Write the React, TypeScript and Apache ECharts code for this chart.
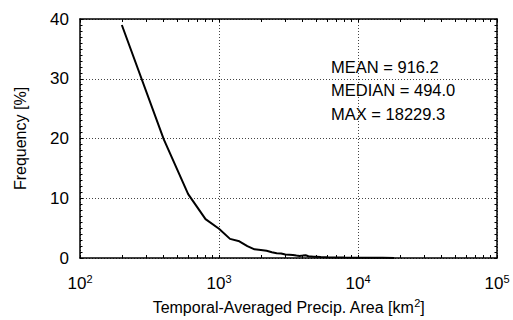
import React, { useEffect, useRef } from "react";
import * as echarts from "echarts";

const areaBins = [200, 400, 600, 800, 1000, 1200, 1400, 1600, 1800, 2000, 2200, 2400, 2600, 2800, 3000, 3200, 3400, 3600, 3800, 4000, 4200, 4400, 4600, 4800, 5000, 5400, 6000, 7000, 8000, 10000, 12000, 15000, 18200];
const frequency = [39.0, 19.9, 10.7, 6.5, 4.9, 3.2, 2.8, 2.0, 1.45, 1.35, 1.2, 0.95, 0.8, 0.75, 0.6, 0.55, 0.5, 0.4, 0.35, 0.4, 0.45, 0.3, 0.25, 0.2, 0.2, 0.15, 0.12, 0.1, 0.08, 0.05, 0.04, 0.03, 0.02];
const statLines = ["MEAN = 916.2", "MEDIAN = 494.0", "MAX = 18229.3"];
const xTickValues: number[] = [];
for (let e = 2; e <= 4; e++) {
  for (let m = 1; m <= 9; m++) xTickValues.push(m * Math.pow(10, e));
}
xTickValues.push(100000);

const FONT = "Liberation Sans";

export default function App() {
  const ref = useRef<HTMLDivElement>(null);
  useEffect(() => {
    if (!ref.current) return;
    const chart = echarts.init(ref.current, null, { renderer: "svg" });
    const xTick = { show: true, inside: true, length: 3, customValues: xTickValues, lineStyle: { color: "#000", width: 1 } };
    const yTickMinor = { show: true, splitNumber: 10, length: 2.5, lineStyle: { color: "#000", width: 1 } };
    const dotted = { show: true, lineStyle: { color: "#444", width: 1, type: [1, 2] as any } };
    const boxLine = { show: true, lineStyle: { color: "#000", width: 1.5 } };
    const logBase = { type: "log", logBase: 10, min: 100, max: 100000 };
    chart.setOption({
      animation: false,
      textStyle: { fontFamily: FONT },
      grid: { left: 80, right: 16, top: 19, bottom: 54 },
      xAxis: [
        {
          ...logBase,
          axisLine: boxLine,
          axisTick: { show: false },
          splitLine: dotted,
          axisLabel: {
            margin: 15,
            color: "#000",
            formatter: (v: number) => `{b|10}{s|${Math.round(Math.log10(v))}}`,
            rich: {
              b: { fontSize: 17, fontFamily: FONT, color: "#000" },
              s: { fontSize: 11, fontFamily: FONT, color: "#000", padding: [0, 0, 10, 0] },
            },
          },
          name: "Temporal-Averaged Precip. Area [km{s|2}]",
          nameLocation: "middle",
          nameGap: 39,
          nameTextStyle: {
            fontSize: 16,
            fontFamily: FONT,
            color: "#000",
            rich: {
              s: { fontSize: 11, fontFamily: FONT, color: "#000", padding: [0, 0, 9, 0] },
            },
          },
        },
        {
          ...logBase,
          position: "bottom",
          axisLine: { show: false },
          axisTick: xTick,
          axisLabel: { show: false },
          splitLine: { show: false },
        },
        {
          ...logBase,
          position: "top",
          axisLine: boxLine,
          axisTick: xTick,
          axisLabel: { show: false },
          splitLine: { show: false },
        },
      ],
      yAxis: [
        {
          type: "value",
          min: 0,
          max: 40,
          interval: 10,
          axisLine: boxLine,
          axisTick: { show: true, inside: true, length: 3, lineStyle: { color: "#000" } },
          minorTick: yTickMinor,
          splitLine: dotted,
          axisLabel: { margin: 11, fontSize: 17, fontFamily: FONT, color: "#000" },
          name: "Frequency [%]",
          nameLocation: "middle",
          nameRotate: 90,
          nameGap: 52,
          nameTextStyle: { fontSize: 16, fontFamily: FONT, color: "#000" },
        },
        {
          type: "value",
          min: 0,
          max: 40,
          interval: 10,
          position: "right",
          axisLine: boxLine,
          axisTick: { show: true, inside: true, length: 3, lineStyle: { color: "#000" } },
          minorTick: yTickMinor,
          axisLabel: { show: false },
          splitLine: { show: false },
        },
      ],
      series: [
        {
          type: "line",
          xAxisIndex: 0,
          yAxisIndex: 0,
          data: areaBins.map((a, i) => [a, frequency[i]]),
          showSymbol: false,
          symbol: "none",
          lineStyle: { color: "#000", width: 2 },
        },
      ],
      graphic: statLines.map((t, i) => ({
        type: "text",
        left: 331,
        top: 58 + i * 23.5,
        style: { text: t, fontSize: 16.5, fontFamily: FONT, fill: "#000" },
      })),
    });
    return () => chart.dispose();
  }, []);
  return <div ref={ref} style={{ width: 513, height: 320, position: "absolute", left: 0, top: 0 }} />;
}
